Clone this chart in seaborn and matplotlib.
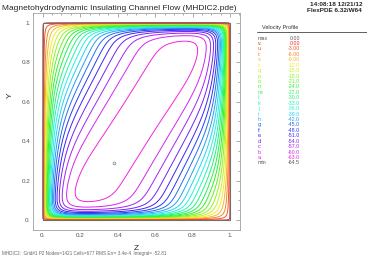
import colorsys
import numpy as np
import seaborn as sns
import matplotlib
matplotlib.use("Agg")
import matplotlib.pyplot as plt
from matplotlib.ticker import MultipleLocator

# legend of the Velocity Profile plot (letter -> contour value)
level_letters = list("vutsrqponmlkjihgfedcba")
level_values = [0.0, -3.0, -6.0, -9.0, -12.0, -15.0, -18.0, -21.0, -24.0, -27.0, -30.0,
                -33.0, -36.0, -39.0, -42.0, -45.0, -48.0, -51.0, -54.0, -57.0, -60.0, -63.0]
level_labels = ["0.00", "-3.00", "-6.00", "-9.00", "-12.0", "-15.0", "-18.0", "-21.0",
                "-24.0", "-27.0", "-30.0", "-33.0", "-36.0", "-39.0", "-42.0", "-45.0",
                "-48.0", "-51.0", "-54.0", "-57.0", "-60.0", "-63.0"]
v_max_label = "0.00"
v_min = -64.5
v_min_label = "-64.5"
min_point = (0.38, 0.29)

tick_values = [0.0, 0.2, 0.4, 0.6, 0.8, 1.0]
tick_labels = ["0.", "0.2", "0.4", "0.6", "0.8", "1."]

# problem parameters of the MHD duct (oblique applied field)
hartmann = 45.0
field_angle = np.radians(24.0)
n = 161


def elsasser(sign, sweeps=3000, omega=1.94):
    # solve lap(u) + sign*Ha*(B.grad u) = -1, u = 0 on the walls (red-black SOR)
    h = 1.0 / (n - 1)
    az = sign * hartmann * np.sin(field_angle)
    ay = sign * hartmann * np.cos(field_angle)
    cE, cW = 1 + az * h / 2, 1 - az * h / 2
    cN, cS = 1 + ay * h / 2, 1 - ay * h / 2
    u = np.zeros((n, n))
    ii, jj = np.meshgrid(np.arange(n - 2), np.arange(n - 2), indexing="ij")
    red = (ii + jj) % 2 == 0
    for _ in range(sweeps):
        for mask in (red, ~red):
            new = (cE * u[1:-1, 2:] + cW * u[1:-1, :-2] + cN * u[2:, 1:-1]
                   + cS * u[:-2, 1:-1] + h * h) / 4
            inner = u[1:-1, 1:-1]
            inner[mask] += omega * (new[mask] - inner[mask])
    return u


z = np.linspace(0, 1, n)
y = np.linspace(0, 1, n)
Zg, Yg = np.meshgrid(z, y)
vel = 0.5 * (elsasser(1) + elsasser(-1))
vel = v_min * vel / vel.max()

sns.set_style("white")
plt.rcParams["font.family"] = ["Liberation Sans", "DejaVu Sans"]

W, H = 367, 260
fig = plt.figure(figsize=(W / 100, H / 100), dpi=100)
ax = fig.add_axes([33 / W, 1 - 230 / H, 207 / W, 217 / H])

colors = [colorsys.hsv_to_rgb(0.85 * k / (len(level_values) - 1), 0.85, 0.95)
          for k in range(len(level_values))]
levels = [min(v, -0.25) for v in level_values]
order = np.argsort(levels)
ax.contour(Zg, Yg, vel, levels=[levels[i] for i in order],
           colors=[colors[i] for i in order], linewidths=0.7)
ax.plot([0, 1, 1, 0, 0], [0, 0, 1, 1, 0], color="#707070", lw=0.8)
ax.plot(*min_point, marker="o", ms=2, mfc="none", mec="#777777", mew=0.5)

ax.set_xlim(-0.052, 1.053)
ax.set_ylim(-0.05, 1.049)
ax.set_xticks(tick_values)
ax.set_xticklabels(tick_labels)
ax.set_yticks(tick_values)
ax.set_yticklabels(tick_labels)
ax.xaxis.set_minor_locator(MultipleLocator(0.05))
ax.yaxis.set_minor_locator(MultipleLocator(0.05))
ax.tick_params(which="both", direction="in", top=True, right=True, color="#888888",
               labelsize=4.5, labelcolor="#555555", width=0.5, pad=2)
ax.tick_params(which="major", length=3)
ax.tick_params(which="minor", length=1.5)
for s in ax.spines.values():
    s.set_color("#a0a0a0")
    s.set_linewidth(0.6)
ax.set_xlabel("Z", fontsize=6, labelpad=5)
fig.text(10 / W, 1 - 95 / H, "Y", fontsize=6, rotation=90, ha="center", va="center")

fig.text(2 / W, 1 - 8 / H, "Magnetohydrodynamic Insulating Channel Flow (MHDIC2.pde)",
         fontsize=6.0, va="center", ha="left")
fig.text(362 / W, 1 - 4 / H, "14:08:18 12/21/12", fontsize=4.6, ha="right", va="center",
         fontweight="bold")
fig.text(362 / W, 1 - 10 / H, "FlexPDE 6.32/W64", fontsize=4.6, ha="right", va="center",
         fontweight="bold")

# legend panel
fig.text(262 / W, 1 - 27 / H, "Velocity Profile", fontsize=4, va="center", color="#333333")
fig.add_artist(plt.Line2D([257 / W, 367 / W], [1 - 32 / H] * 2, color="#444444", lw=0.6))
row0, dy = 38, 5.43
fig.text(258 / W, 1 - row0 / H, "max", fontsize=3.8, va="center", color="#555555")
fig.text(300 / W, 1 - row0 / H, v_max_label, fontsize=3.8, va="center", ha="right",
         color="#555555")
for k, (lt, lab) in enumerate(zip(level_letters, level_labels)):
    yy = 1 - (row0 + (k + 1) * dy) / H
    fig.text(258 / W, yy, lt + ":", fontsize=3.8, va="center", color=colors[k])
    fig.text(300 / W, yy, lab, fontsize=3.8, va="center", ha="right", color=colors[k])
yy = 1 - (row0 + (len(level_letters) + 1) * dy) / H
fig.text(258 / W, yy, "min", fontsize=3.8, va="center", color="#555555")
fig.text(300 / W, yy, v_min_label, fontsize=3.8, va="center", ha="right", color="#555555")

fig.text(2 / W, 1 - 253 / H,
         "MHDIC2:  Grid#1 P2 Nodes=1421 Cells=677 RMS Err= 3.4e-4  Integral= -52.81",
         fontsize=3.3, va="center", color="#666666")

fig.savefig("out.png", dpi=100)
plt.close()
